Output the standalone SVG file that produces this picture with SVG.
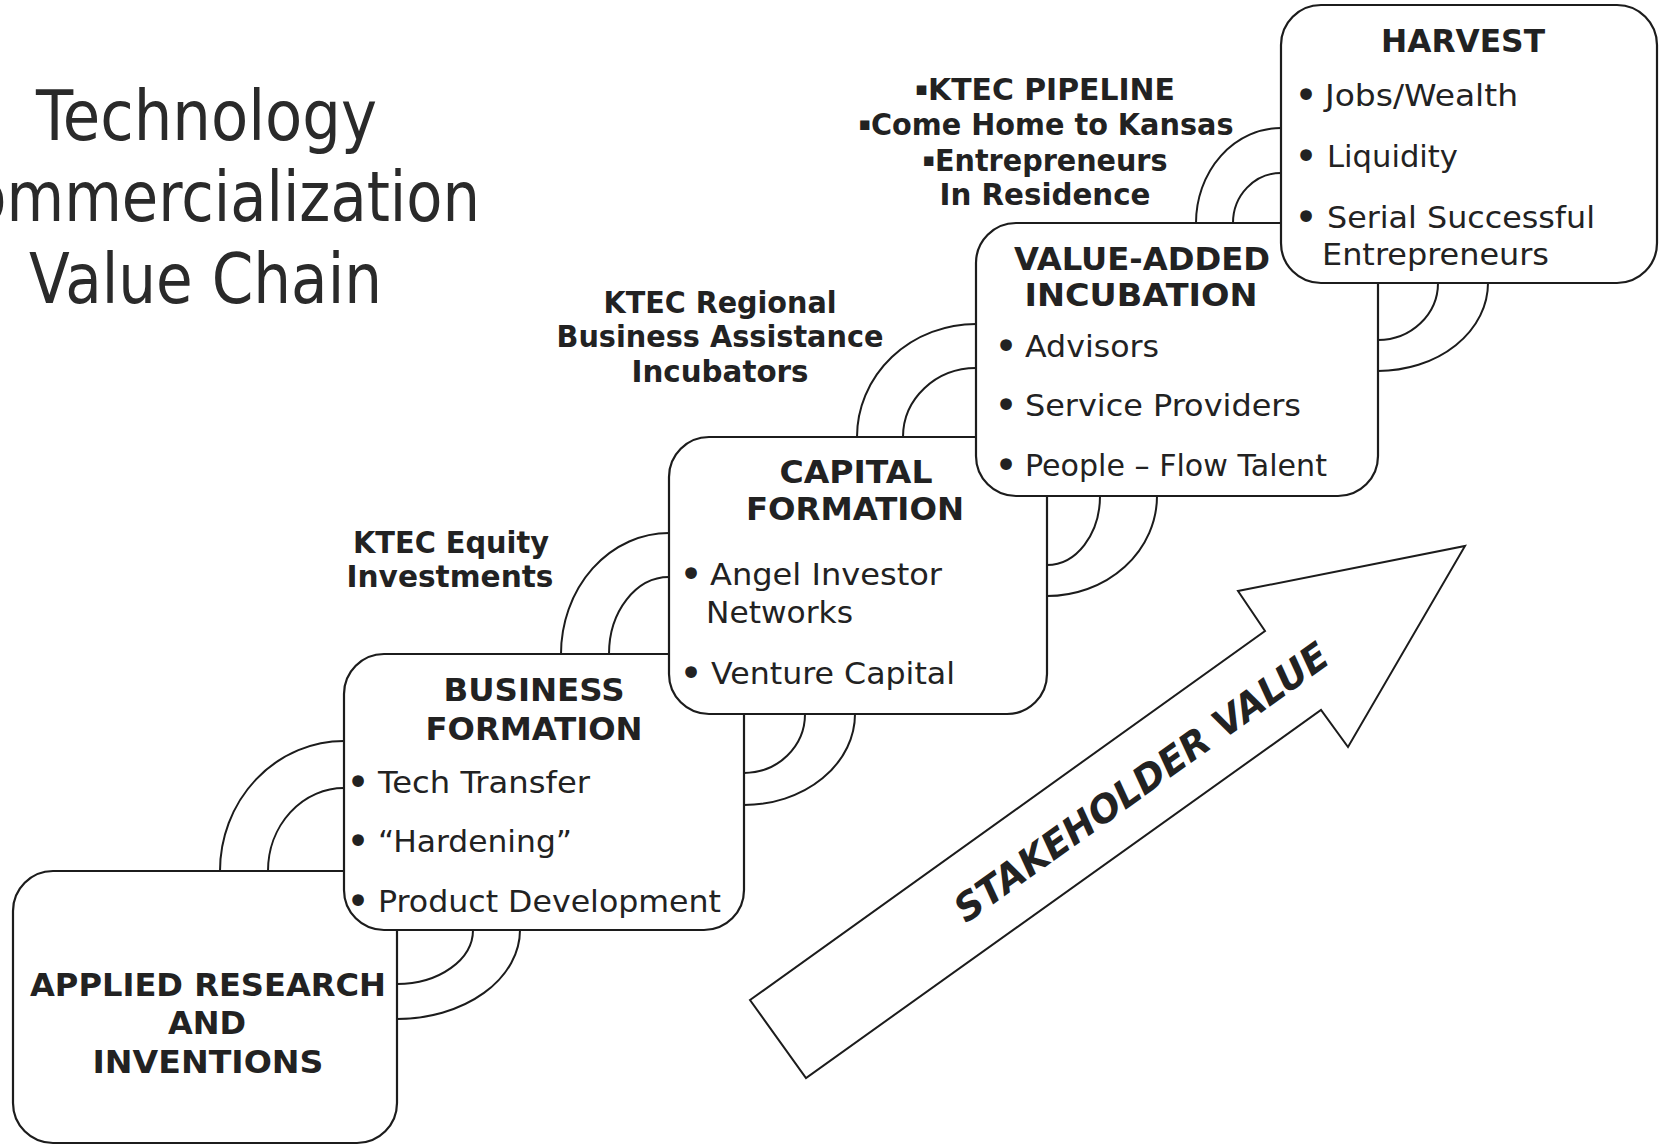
<svg xmlns="http://www.w3.org/2000/svg" width="1660" height="1148" viewBox="0 0 1660 1148">
<style>
.bg{fill:#ffffff}
.box{fill:#ffffff;stroke:#1c1c1c;stroke-width:2.2}
.arc{fill:none;stroke:#1c1c1c;stroke-width:2}
.title{font-family:"DejaVu Sans","Liberation Sans",sans-serif;font-size:70px;fill:#2a2a2a}
.hd{font-family:"DejaVu Sans","Liberation Sans",sans-serif;font-size:32px;font-weight:bold;fill:#222;text-anchor:middle}
.lb{font-family:"DejaVu Sans","Liberation Sans",sans-serif;font-size:29.5px;font-weight:bold;fill:#222;text-anchor:middle}
.sq{font-size:19px;baseline-shift:5px}
.bd{font-family:"DejaVu Sans","Liberation Sans",sans-serif;font-size:31px;fill:#222}
.bu{font-family:"DejaVu Sans","Liberation Sans",sans-serif;font-size:40px;fill:#222;text-anchor:middle}
.arrow{fill:#ffffff;stroke:#1c1c1c;stroke-width:2}
.sv{font-family:"DejaVu Sans","Liberation Sans",sans-serif;font-size:38px;font-weight:bold;font-style:italic;fill:#222;text-anchor:middle}
</style>
<rect class="bg" x="0" y="0" width="1660" height="1148"/>
<g id="title">
<text class="title" x="36" y="140" textLength="341" lengthAdjust="spacingAndGlyphs">Technology</text>
<text class="title" x="-71" y="221" textLength="551" lengthAdjust="spacingAndGlyphs">Commercialization</text>
<text class="title" x="29" y="303" textLength="353" lengthAdjust="spacingAndGlyphs">Value Chain</text>
</g>
<g id="connectors">
<path class="arc" d="M220,871 A124,130 0 0 1 344,741"/>
<path class="arc" d="M268,871 A76,83 0 0 1 344,788"/>
<path class="arc" d="M473,930 A76,54 0 0 1 397,984"/>
<path class="arc" d="M520,930 A123,89 0 0 1 397,1019"/>
<path class="arc" d="M561,654 A108,121 0 0 1 669,533"/>
<path class="arc" d="M609,654 A60,77 0 0 1 669,577"/>
<path class="arc" d="M805,714 A61,59 0 0 1 744,773"/>
<path class="arc" d="M855,714 A111,91 0 0 1 744,805"/>
<path class="arc" d="M857,437 A119,113 0 0 1 976,324"/>
<path class="arc" d="M903,437 A73,69 0 0 1 976,368"/>
<path class="arc" d="M1100,496 A53,69 0 0 1 1047,565"/>
<path class="arc" d="M1157,496 A110,100 0 0 1 1047,596"/>
<path class="arc" d="M1196,223 A85,95 0 0 1 1281,128"/>
<path class="arc" d="M1233,223 A48,50 0 0 1 1281,173"/>
<path class="arc" d="M1438,283 A60,57 0 0 1 1378,340"/>
<path class="arc" d="M1488,283 A110,88 0 0 1 1378,371"/>
</g>
<g id="applied-research">
<rect class="box" x="13" y="871" width="384" height="272" rx="40"/>
<text class="hd" x="208" y="996" textLength="356" lengthAdjust="spacingAndGlyphs">APPLIED RESEARCH</text>
<text class="hd" x="207" y="1034">AND</text>
<text class="hd" x="208" y="1073" textLength="231" lengthAdjust="spacingAndGlyphs">INVENTIONS</text>
</g>
<g id="business-formation">
<rect class="box" x="344" y="654" width="400" height="276" rx="40"/>
<text class="hd" x="534" y="701" textLength="181" lengthAdjust="spacingAndGlyphs">BUSINESS</text>
<text class="hd" x="534" y="740" textLength="217" lengthAdjust="spacingAndGlyphs">FORMATION</text>
<text class="bu" x="358" y="796">•</text>
<text class="bd" x="378" y="793" textLength="212" lengthAdjust="spacingAndGlyphs">Tech Transfer</text>
<text class="bu" x="358" y="855">•</text>
<text class="bd" x="378" y="852" textLength="194" lengthAdjust="spacingAndGlyphs">“Hardening”</text>
<text class="bu" x="358" y="915">•</text>
<text class="bd" x="378" y="912" textLength="343" lengthAdjust="spacingAndGlyphs">Product Development</text>
</g>
<g id="capital-formation">
<rect class="box" x="669" y="437" width="378" height="277" rx="40"/>
<text class="hd" x="856" y="483" textLength="153" lengthAdjust="spacingAndGlyphs">CAPITAL</text>
<text class="hd" x="855" y="520" textLength="218" lengthAdjust="spacingAndGlyphs">FORMATION</text>
<text class="bu" x="691" y="588">•</text>
<text class="bd" x="710" y="585" textLength="232" lengthAdjust="spacingAndGlyphs">Angel Investor</text>
<text class="bd" x="706" y="623" textLength="147" lengthAdjust="spacingAndGlyphs">Networks</text>
<text class="bu" x="691" y="687">•</text>
<text class="bd" x="711" y="684" textLength="244" lengthAdjust="spacingAndGlyphs">Venture Capital</text>
</g>
<g id="value-added-incubation">
<rect class="box" x="976" y="223" width="402" height="273" rx="40"/>
<text class="hd" x="1142" y="270" textLength="256" lengthAdjust="spacingAndGlyphs">VALUE-ADDED</text>
<text class="hd" x="1141" y="306" textLength="233" lengthAdjust="spacingAndGlyphs">INCUBATION</text>
<text class="bu" x="1006" y="360">•</text>
<text class="bd" x="1025" y="357" textLength="134" lengthAdjust="spacingAndGlyphs">Advisors</text>
<text class="bu" x="1006" y="419">•</text>
<text class="bd" x="1025" y="416" textLength="276" lengthAdjust="spacingAndGlyphs">Service Providers</text>
<text class="bu" x="1006" y="479">•</text>
<text class="bd" x="1025" y="476" textLength="302" lengthAdjust="spacingAndGlyphs">People – Flow Talent</text>
</g>
<g id="harvest">
<rect class="box" x="1281" y="5" width="376" height="278" rx="40"/>
<text class="hd" x="1463" y="52" textLength="164" lengthAdjust="spacingAndGlyphs">HARVEST</text>
<text class="bu" x="1306" y="109">•</text>
<text class="bd" x="1325" y="106" textLength="193" lengthAdjust="spacingAndGlyphs">Jobs/Wealth</text>
<text class="bu" x="1306" y="170">•</text>
<text class="bd" x="1327" y="167" textLength="131" lengthAdjust="spacingAndGlyphs">Liquidity</text>
<text class="bu" x="1306" y="231">•</text>
<text class="bd" x="1327" y="228" textLength="268" lengthAdjust="spacingAndGlyphs">Serial Successful</text>
<text class="bd" x="1322" y="265" textLength="227" lengthAdjust="spacingAndGlyphs">Entrepreneurs</text>
</g>
<g id="label-equity">
<text class="lb" x="451" y="553" textLength="196" lengthAdjust="spacingAndGlyphs">KTEC Equity</text>
<text class="lb" x="450" y="587" textLength="207" lengthAdjust="spacingAndGlyphs">Investments</text>
</g>
<g id="label-regional">
<text class="lb" x="720" y="313" textLength="233" lengthAdjust="spacingAndGlyphs">KTEC Regional</text>
<text class="lb" x="720" y="347" textLength="327" lengthAdjust="spacingAndGlyphs">Business Assistance</text>
<text class="lb" x="720" y="382" textLength="177" lengthAdjust="spacingAndGlyphs">Incubators</text>
</g>
<g id="label-pipeline">
<text class="lb" x="1045" y="100" textLength="260" lengthAdjust="spacingAndGlyphs"><tspan class="sq">▪</tspan>KTEC PIPELINE</text>
<text class="lb" x="1046" y="135" textLength="375" lengthAdjust="spacingAndGlyphs"><tspan class="sq">▪</tspan>Come Home to Kansas</text>
<text class="lb" x="1045" y="171" textLength="245" lengthAdjust="spacingAndGlyphs"><tspan class="sq">▪</tspan>Entrepreneurs</text>
<text class="lb" x="1045" y="205" textLength="211" lengthAdjust="spacingAndGlyphs">In Residence</text>
</g>
<g id="stakeholder-arrow">
<polygon class="arrow" points="750,1000 1265,631 1238,591 1465,546 1348,747 1321,710 806,1078"/>
<text class="sv" x="1149" y="793" transform="rotate(-35.55 1149 793)" textLength="450" lengthAdjust="spacingAndGlyphs">STAKEHOLDER VALUE</text>
</g>
</svg>
